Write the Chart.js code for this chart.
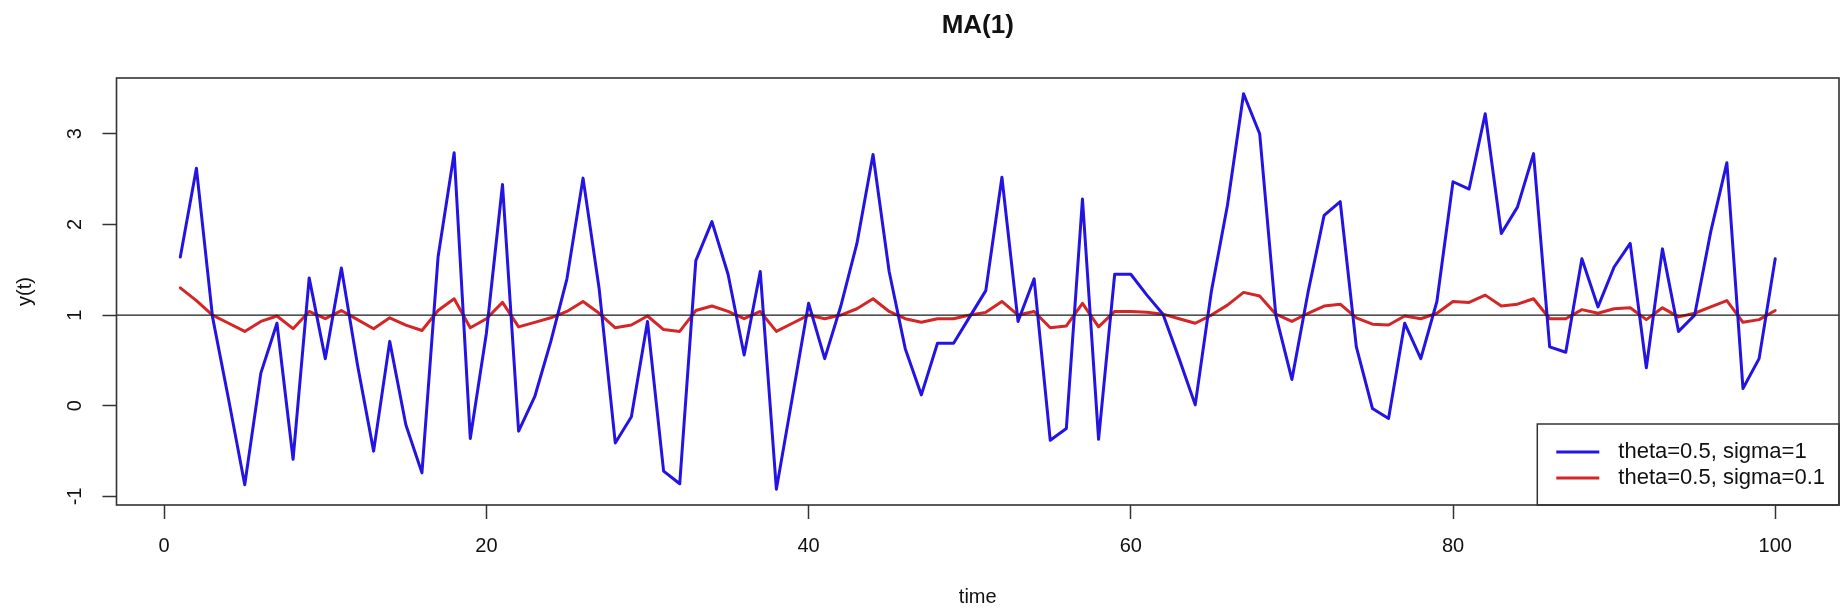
<!DOCTYPE html>
<html>
<head>
<meta charset="utf-8">
<script src="https://cdn.jsdelivr.net/npm/chart.js@4.4.1/dist/chart.umd.min.js"></script>
<style>
html,body{margin:0;padding:0;background:#fff;}
#wrap{width:1841px;height:614px;position:relative;}
</style>
</head>
<body>
<div id="wrap"><canvas id="c" width="1841" height="614"></canvas></div>
<script>
// ---- data ----
const time = [1,2,3,4,5,6,7,8,9,10,11,12,13,14,15,16,17,18,19,20,
  21,22,23,24,25,26,27,28,29,30,31,32,33,34,35,36,37,38,39,40,
  41,42,43,44,45,46,47,48,49,50,51,52,53,54,55,56,57,58,59,60,
  61,62,63,64,65,66,67,68,69,70,71,72,73,74,75,76,77,78,79,80,
  81,82,83,84,85,86,87,88,89,90,91,92,93,94,95,96,97,98,99,100];
const seriesSigma1 = [1.64,2.62,0.98,0.07,-0.87,0.36,0.91,-0.59,1.41,0.52,
  1.52,0.45,-0.50,0.71,-0.21,-0.74,1.64,2.79,-0.36,0.80,
  2.44,-0.28,0.10,0.71,1.40,2.51,1.29,-0.41,-0.12,0.93,
  -0.72,-0.86,1.60,2.03,1.45,0.56,1.48,-0.92,0.10,1.13,
  0.52,1.10,1.79,2.77,1.48,0.63,0.12,0.69,0.69,0.98,
  1.27,2.52,0.93,1.40,-0.38,-0.25,2.28,-0.37,1.45,1.45,
  1.22,1.01,0.52,0.01,1.26,2.21,3.44,3.00,1.00,0.29,
  1.25,2.10,2.25,0.65,-0.03,-0.14,0.91,0.52,1.15,2.47,
  2.39,3.22,1.90,2.19,2.78,0.65,0.59,1.62,1.09,1.53,
  1.79,0.42,1.73,0.82,1.00,1.92,2.68,0.19,0.52,1.62];
const seriesSigma01 = [1.30,1.16,1.00,0.91,0.82,0.93,0.99,0.85,1.04,0.96,
  1.05,0.95,0.85,0.97,0.89,0.83,1.05,1.18,0.86,0.96,
  1.14,0.87,0.92,0.97,1.04,1.15,1.02,0.86,0.89,0.99,
  0.84,0.82,1.05,1.10,1.04,0.96,1.04,0.82,0.91,1.00,
  0.96,1.00,1.07,1.18,1.04,0.96,0.92,0.96,0.96,1.00,
  1.03,1.15,1.00,1.04,0.86,0.88,1.13,0.87,1.04,1.04,
  1.03,1.01,0.96,0.91,1.00,1.11,1.25,1.21,1.01,0.93,
  1.02,1.10,1.12,0.97,0.90,0.89,0.99,0.96,1.02,1.15,
  1.14,1.22,1.10,1.12,1.18,0.96,0.96,1.06,1.02,1.07,
  1.08,0.95,1.08,0.98,1.02,1.09,1.16,0.92,0.95,1.05];
const seriesLabels = ['theta=0.5, sigma=1', 'theta=0.5, sigma=0.1'];
const xTickValues = [0, 20, 40, 60, 80, 100];
const yTickValues = [-1, 0, 1, 2, 3];
const xRange = [-2.96, 103.96];
const yRange = [-1.094, 3.614];
const meanLevel = 1;
const chartTitle = 'MA(1)';
const xTitle = 'time';
const yTitle = 'y(t)';

// ---- styles ----
const FONT = '"Liberation Sans", Arial, Helvetica, sans-serif';
const BLUE = '#2414e4';
const RED = '#d42626';
Chart.defaults.font.family = FONT;
Chart.defaults.color = '#111';

const toPoints = (ys) => time.map((t, i) => ({x: t, y: ys[i]}));

const framePlugin = {
  id: 'frame',
  afterDatasetsDraw(chart) {
    const {ctx, chartArea: a, scales: {y}} = chart;
    ctx.save();
    // reference line
    const py = y.getPixelForValue(meanLevel);
    ctx.strokeStyle = '#1a1a1a';
    ctx.lineWidth = 1.3;
    ctx.beginPath(); ctx.moveTo(a.left, py); ctx.lineTo(a.right, py); ctx.stroke();

    // legend (bottom right, inside plot)
    ctx.font = '22px ' + FONT;
    const ds = chart.data.datasets;
    let tw = 0;
    ds.forEach(d => { tw = Math.max(tw, ctx.measureText(d.label).width); });
    const right = a.right, bottom = a.bottom;
    const left = right - 14 - tw - 81;
    const top = bottom - 81;
    ctx.fillStyle = '#fff';
    ctx.fillRect(left, top, right - left, bottom - top);
    ctx.strokeStyle = '#333';
    ctx.lineWidth = 1.5;
    ctx.strokeRect(left, top, right - left, bottom - top);
    ds.forEach((d, i) => {
      const ly = top + 28 + i * 26;
      ctx.strokeStyle = d.borderColor;
      ctx.lineWidth = d.borderWidth;
      ctx.beginPath(); ctx.moveTo(left + 19, ly); ctx.lineTo(left + 62, ly); ctx.stroke();
      ctx.fillStyle = '#111';
      ctx.textBaseline = 'middle';
      ctx.textAlign = 'left';
      ctx.fillText(d.label, left + 81, ly);
    });

    // plot frame
    ctx.strokeStyle = '#333';
    ctx.lineWidth = 1.6;
    ctx.strokeRect(a.left, a.top, a.right - a.left, a.bottom - a.top);
    ctx.restore();
  }
};

new Chart(document.getElementById('c'), {
  type: 'line',
  data: {
    datasets: [
      {label: seriesLabels[0], data: toPoints(seriesSigma1), borderColor: BLUE, borderWidth: 3,
       pointRadius: 0, tension: 0, fill: false, borderJoinStyle: 'round', borderCapStyle: 'round'},
      {label: seriesLabels[1], data: toPoints(seriesSigma01), borderColor: RED, borderWidth: 3,
       pointRadius: 0, tension: 0, fill: false, borderJoinStyle: 'round', borderCapStyle: 'round'}
    ]
  },
  options: {
    responsive: false,
    animation: false,
    devicePixelRatio: 1,
    layout: {padding: {left: 0, right: 2, top: 0, bottom: 0}},
    plugins: {
      legend: {display: false},
      tooltip: {enabled: false},
      title: {
        display: true, text: chartTitle, fullSize: false, color: '#111',
        font: {size: 26, weight: 'bold', family: FONT},
        padding: {top: 10.4, bottom: 36.4}
      }
    },
    scales: {
      x: {
        type: 'linear', min: xRange[0], max: xRange[1],
        afterBuildTicks: (s) => { s.ticks = xTickValues.map(v => ({value: v})); },
        afterFit: (s) => { s.height = 109; },
        grid: {display: true, drawOnChartArea: false, drawTicks: true, tickLength: 14, tickColor: '#333', tickWidth: 1.5},
        border: {display: false},
        ticks: {font: {size: 20}, color: '#111', padding: 15, maxRotation: 0, autoSkip: false},
        title: {display: true, text: xTitle, font: {size: 20}, color: '#111', padding: {top: 0, bottom: 5}}
      },
      y: {
        type: 'linear', min: yRange[0], max: yRange[1],
        afterBuildTicks: (s) => { s.ticks = yTickValues.map(v => ({value: v})); },
        afterFit: (s) => { s.width = 116.5; },
        grid: {display: true, drawOnChartArea: false, drawTicks: true, tickLength: 14, tickColor: '#333', tickWidth: 1.5},
        border: {display: false},
        ticks: {font: {size: 20}, color: '#111', padding: 18.6, minRotation: 90, maxRotation: 90, crossAlign: 'center', autoSkip: false},
        title: {display: true, text: yTitle, font: {size: 20}, color: '#111', padding: {top: 13, bottom: 0}}
      }
    }
  },
  plugins: [framePlugin]
});
</script>
</body>
</html>
